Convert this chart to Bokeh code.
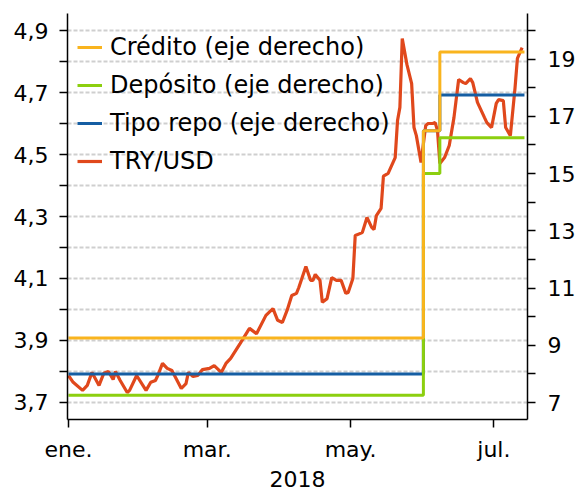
import pandas as pd
from bokeh.plotting import figure
from bokeh.models import (Range1d, LinearAxis, FixedTicker, CustomJSTickFormatter,
                          Legend, LegendItem)
from bokeh.embed import file_html
from bokeh.resources import INLINE

# ---- data ----
fx_dates = ["2018-01-01", "2018-01-03", "2018-01-07", "2018-01-09", "2018-01-11", "2018-01-14",
            "2018-01-16", "2018-01-18", "2018-01-20", "2018-01-21", "2018-01-23", "2018-01-26",
            "2018-01-27", "2018-01-30", "2018-02-03", "2018-02-05", "2018-02-07", "2018-02-08",
            "2018-02-10", "2018-02-12", "2018-02-14", "2018-02-18", "2018-02-20", "2018-02-21",
            "2018-02-23", "2018-02-25", "2018-02-27", "2018-03-02", "2018-03-04", "2018-03-07",
            "2018-03-09", "2018-03-11", "2018-03-15", "2018-03-19", "2018-03-22", "2018-03-26",
            "2018-03-29", "2018-03-31", "2018-04-02", "2018-04-04", "2018-04-06", "2018-04-08",
            "2018-04-09", "2018-04-12", "2018-04-14", "2018-04-15", "2018-04-16", "2018-04-18",
            "2018-04-19", "2018-04-21", "2018-04-23", "2018-04-25", "2018-04-27", "2018-04-29",
            "2018-04-30", "2018-05-02", "2018-05-03", "2018-05-06", "2018-05-08", "2018-05-10",
            "2018-05-11", "2018-05-12", "2018-05-14", "2018-05-15", "2018-05-17", "2018-05-20",
            "2018-05-21", "2018-05-22", "2018-05-23", "2018-05-25", "2018-05-27", "2018-05-28",
            "2018-05-29", "2018-05-31", "2018-06-02", "2018-06-03", "2018-06-05", "2018-06-06",
            "2018-06-07", "2018-06-08", "2018-06-10", "2018-06-12", "2018-06-14", "2018-06-16",
            "2018-06-18", "2018-06-19", "2018-06-21", "2018-06-22", "2018-06-24", "2018-06-27",
            "2018-06-28", "2018-06-30", "2018-07-02", "2018-07-03", "2018-07-05", "2018-07-06",
            "2018-07-08", "2018-07-10", "2018-07-11", "2018-07-13"]
fx_values = [3.787, 3.765, 3.739, 3.755, 3.797, 3.755,
             3.794, 3.800, 3.774, 3.800, 3.771, 3.732,
             3.739, 3.787, 3.739, 3.765, 3.771, 3.787,
             3.826, 3.810, 3.803, 3.745, 3.761, 3.797,
             3.784, 3.787, 3.806, 3.810, 3.819, 3.797,
             3.826, 3.842, 3.890, 3.939, 3.922, 3.981,
             4.003, 3.965, 3.958, 3.997, 4.045, 4.052,
             4.071, 4.139, 4.094, 4.094, 4.113, 4.094,
             4.023, 4.035, 4.103, 4.094, 4.094, 4.052,
             4.055, 4.100, 4.239, 4.248, 4.297, 4.265,
             4.258, 4.303, 4.326, 4.430, 4.439, 4.490,
             4.610, 4.652, 4.874, 4.790, 4.729, 4.587,
             4.561, 4.474, 4.594, 4.600, 4.600, 4.603,
             4.577, 4.471, 4.490, 4.529, 4.619, 4.742,
             4.732, 4.729, 4.745, 4.732, 4.668, 4.619,
             4.603, 4.587, 4.665, 4.677, 4.674, 4.587,
             4.561, 4.716, 4.810, 4.845]

rate_dates = ["2018-01-01", "2018-06-01", "2018-06-08", "2018-07-14"]
credito = [9.25, 16.5, 19.25, 19.25]
deposito = [7.25, 15.0, 16.25, 16.25]
repo = [8.0, 16.5, 17.75, 17.75]

x_tick_dates = ["2018-01-01", "2018-03-01", "2018-05-01", "2018-07-01"]
x_tick_labels = ["ene.", "mar.", "may.", "jul."]
left_major = [3.7, 3.9, 4.1, 4.3, 4.5, 4.7, 4.9]
left_minor = [3.8, 4.0, 4.2, 4.4, 4.6, 4.8]
right_major = [7, 9, 11, 13, 15, 17, 19]
right_minor = [8, 10, 12, 14, 16, 18, 20]

series_names = ["Crédito (eje derecho)", "Depósito (eje derecho)",
                "Tipo repo (eje derecho)", "TRY/USD"]
colors = {"credito": "#f9b41e", "deposito": "#8ccf0f", "repo": "#155ea3", "fx": "#e0481c"}

FONT = "DejaVu Sans"

fx_x = pd.to_datetime(fx_dates)
rate_x = pd.to_datetime(rate_dates)
tick_ms = [pd.Timestamp(d).value // 10**6 for d in x_tick_dates]

p = figure(width=578, height=494, x_axis_type="datetime",
           x_range=Range1d(pd.Timestamp("2017-12-31 14:00"), pd.Timestamp("2018-07-15 07:00")),
           y_range=Range1d(3.645, 4.955),
           output_backend="svg", toolbar_location=None,
           min_border_left=67, min_border_right=49, min_border_top=13, min_border_bottom=75)
p.extra_y_ranges = {"right": Range1d(6.406, 20.594)}
p.outline_line_color = None
p.background_fill_color = "white"

# grid
p.xgrid.visible = False
p.ygrid.ticker = FixedTicker(ticks=sorted(left_major + left_minor))
p.ygrid.grid_line_color = "#cfcfcf"
p.ygrid.grid_line_dash = "4 2"
p.ygrid.grid_line_width = 2

# lines
r_fx = p.line(fx_x, fx_values, line_color=colors["fx"], line_width=3.2)
r_repo = p.step(rate_x, repo, mode="after", line_color=colors["repo"], line_width=3,
                y_range_name="right")
r_dep = p.step(rate_x, deposito, mode="after", line_color=colors["deposito"], line_width=3,
               y_range_name="right")
r_cred = p.step(rate_x, credito, mode="after", line_color=colors["credito"], line_width=3,
                y_range_name="right")

# axes
right_axis = LinearAxis(y_range_name="right",
                        ticker=FixedTicker(ticks=right_major, minor_ticks=right_minor))
p.add_layout(right_axis, "right")

p.yaxis[0].ticker = FixedTicker(ticks=left_major, minor_ticks=left_minor)
p.yaxis[0].formatter = CustomJSTickFormatter(code="return tick.toFixed(1).replace('.', ',');")

p.xaxis.ticker = FixedTicker(ticks=tick_ms, minor_ticks=[])
p.xaxis.formatter = CustomJSTickFormatter(
    args=dict(tick_vals=tick_ms, tick_names=x_tick_labels),
    code="const i = tick_vals.indexOf(tick); return i >= 0 ? tick_names[i] : '';")
p.xaxis.axis_label = "2018"
p.xaxis.axis_label_text_font = FONT
p.xaxis.axis_label_text_font_size = "22px"
p.xaxis.axis_label_text_font_style = "normal"
p.xaxis.axis_label_text_color = "black"
p.xaxis.axis_label_standoff = 6

for ax in [p.xaxis[0], p.yaxis[0], right_axis]:
    ax.axis_line_color = "black"
    ax.axis_line_width = 1.5
    ax.major_tick_line_color = "black"
    ax.major_tick_line_width = 1.5
    ax.minor_tick_line_color = "black"
    ax.minor_tick_line_width = 1.5
    ax.major_tick_in = 0
    ax.major_tick_out = 8
    ax.minor_tick_in = 0
    ax.minor_tick_out = 8
    ax.major_label_text_font = FONT
    ax.major_label_text_font_size = "22px"
    ax.major_label_text_color = "black"

p.xaxis[0].major_label_standoff = 9
p.yaxis[0].major_label_standoff = 11
right_axis.major_label_standoff = 12

legend = Legend(items=[
    LegendItem(label=series_names[0], renderers=[r_cred]),
    LegendItem(label=series_names[1], renderers=[r_dep]),
    LegendItem(label=series_names[2], renderers=[r_repo]),
    LegendItem(label=series_names[3], renderers=[r_fx]),
], location=(10, 243))
legend.margin = 0
legend.padding = 0
legend.spacing = 8
legend.label_height = 30
legend.glyph_height = 30
legend.glyph_width = 25
legend.label_standoff = 8
legend.label_text_font = FONT
legend.label_text_font_size = "24px"
legend.label_text_color = "black"
legend.background_fill_alpha = 0
legend.border_line_alpha = 0
p.add_layout(legend)

open("out.html", "w").write(file_html(p, INLINE))
